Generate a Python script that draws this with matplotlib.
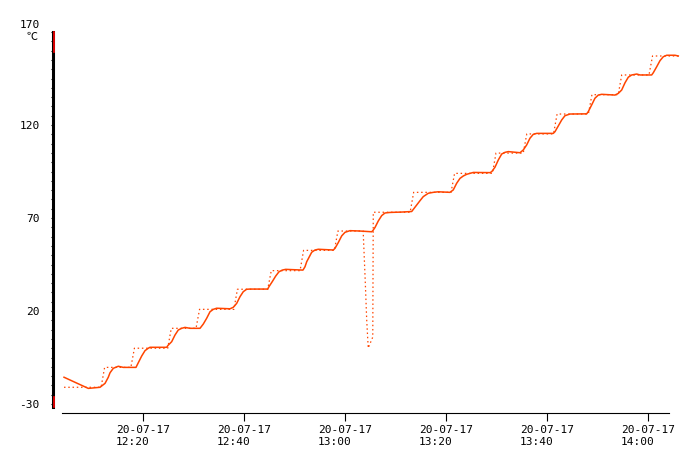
## temperature log: measured value (solid) vs set point (dotted)

import numpy as np
import pandas as pd
import matplotlib as mpl
mpl.use('Agg')
import matplotlib.pyplot as plt
import matplotlib.dates as mdates
from matplotlib.transforms import ScaledTranslation

plt.rcParams['font.family'] = ['DejaVu Sans Mono', 'Noto Sans CJK JP']
plt.rcParams['font.size'] = 8

base = pd.Timestamp('2020-07-17 12:00')

# set point, minutes after 12:00 / degC
sp_min = [4.36, 11.7, 12.4, 17.6, 18.3, 24.9, 25.6, 30.5, 31.2, 38.0, 38.7,
          44.7, 45.4, 51.1, 51.8, 57.9, 58.6, 63.6, 64.0, 64.3, 64.6, 65.5, 65.6,
          72.9, 73.6, 81.0, 81.7, 89.2, 89.9, 95.3, 96.0, 101.3, 102.0,
          108.2, 108.9, 114.1, 114.8, 120.2, 120.9, 126.0]
sp_val = [-21.0, -21.0, -10.3, -10.3, 0.0, 0.0, 10.7, 10.7, 20.9, 20.9, 31.7,
          31.7, 41.7, 41.7, 52.6, 52.6, 63.0, 63.0, 36.7, 15.2, 0.1, 6.0, 73.1,
          73.1, 83.8, 83.8, 94.0, 94.0, 104.9, 104.9, 115.2, 115.2, 125.9,
          125.9, 136.3, 136.3, 146.9, 146.9, 157.1, 157.1]

# measured temperature
pv_min = [4.36, 9.17, 11.49, 12.48, 13.13, 13.47, 14.12, 15.11, 16.10, 18.61,
          19.07, 19.74, 20.40, 21.05, 21.39, 24.69, 24.95, 25.68, 26.34, 26.99,
          27.66, 28.32, 29.31, 31.29, 31.94, 32.61, 33.27, 33.92, 34.59, 37.23,
          37.88, 38.55, 39.21, 39.86, 40.53, 41.19, 44.69, 44.95, 45.60, 46.28,
          46.93, 47.58, 48.26, 51.68, 52.08, 52.42, 53.41, 54.06, 54.71, 57.68,
          58.02, 58.67, 59.35, 60.00, 60.99, 62.97, 65.29, 65.54, 65.94, 66.59,
          67.27, 67.92, 68.91, 71.23, 73.21, 73.52, 74.20, 74.85, 75.50, 76.49,
          77.48, 78.47, 80.79, 81.44, 82.12, 82.77, 83.43, 84.10, 85.41, 88.71,
          89.05, 89.70, 90.36, 91.03, 91.68, 92.34, 94.65, 95.31, 95.98, 96.63,
          97.29, 97.96, 101.25, 101.58, 102.24, 102.91, 103.56, 104.55, 107.86,
          108.18, 108.85, 109.50, 110.16, 110.83, 113.46, 114.12, 114.79, 115.45,
          116.10, 116.78, 117.77, 118.42, 120.73, 121.05, 121.72, 122.38, 123.03,
          123.71, 125.35, 126.00]
pv_val = [-15.6, -21.6, -21.0, -18.9, -15.6, -13.2, -10.8, -9.7, -10.3, -10.3,
          -7.8, -4.2, -1.3, 0.0, 0.5, 0.5, 1.5, 3.5, 7.1, 9.8,
          10.7, 11.2, 10.7, 10.7, 13.0, 16.1, 19.6, 20.9, 21.5, 21.2,
          22.0, 24.1, 27.7, 30.4, 31.7, 31.8, 31.8, 33.1, 35.8, 38.8,
          41.1, 42.0, 42.4, 42.0, 43.8, 46.5, 51.6, 52.8, 53.2, 52.8,
          53.7, 56.8, 60.4, 62.3, 63.2, 63.0, 62.6, 63.3, 64.9, 68.4,
          71.3, 72.7, 73.0, 73.2, 73.5, 74.6, 77.0, 79.3, 81.5, 83.3,
          83.8, 84.1, 83.8, 85.1, 88.7, 91.3, 92.6, 93.5, 94.5, 94.4,
          94.9, 97.3, 101.2, 104.4, 105.3, 105.7, 105.1, 106.6, 109.3, 112.9,
          115.0, 115.5, 115.5, 116.4, 119.5, 122.7, 125.0, 125.9, 126.0,
          127.2, 130.8, 134.4, 136.1, 136.5, 136.1, 137.0, 138.8, 142.7,
          145.7, 146.9, 147.4, 146.9, 146.9, 148.1, 151.3, 154.6, 156.7,
          157.5, 157.5, 157.1]

# alarm bands marked in red on the axis
alarm_hi = 159.5
alarm_lo = -26.4

ytick_vals = [-30, 20, 70, 120, 170]
xtick_times = pd.date_range('2020-07-17 12:20', periods=6, freq='20min')

sp_t = base + pd.to_timedelta(sp_min, unit='min')
pv_t = base + pd.to_timedelta(pv_min, unit='min')

fig = plt.figure(figsize=(7, 4.67), dpi=100)
W, H = 700, 467
ax = fig.add_axes([52.5 / W, (H - 407) / H, (690 - 52.5) / W, (407 - 32) / H])

col = '#ff4500'
ax.plot(sp_t, sp_val, color=col, lw=0.9, linestyle=(0, (1.2, 2.2)))
ax.plot(pv_t, pv_val, color=col, lw=1.1)

ax.set_xlim(base + pd.Timedelta(minutes=2.08), base + pd.Timedelta(minutes=128.32))
ax.set_ylim(-31.6, 170)

for s in ['top', 'right']:
    ax.spines[s].set_visible(False)
ax.spines['left'].set_linewidth(2.2)
ax.spines['bottom'].set_linewidth(0.8)
ax.spines['bottom'].set_position(('outward', 4.3))
ax.spines['bottom'].set_bounds(mdates.date2num(base + pd.Timedelta(minutes=3.96)),
                               mdates.date2num(base + pd.Timedelta(minutes=124.16)))

# red alarm marks on the y axis
off = ScaledTranslation(1.0 / 72, 0, fig.dpi_scale_trans)
tr = ax.get_yaxis_transform() + off
ax.plot([0, 0], [alarm_hi, 170], color='red', lw=1.2, transform=tr, clip_on=False, zorder=4)
ax.plot([0, 0], [-31.6, alarm_lo], color='red', lw=1.2, transform=tr, clip_on=False, zorder=4)

ax.set_yticks(ytick_vals)
ax.set_yticklabels([str(v) for v in ytick_vals])
ax.yaxis.set_minor_locator(mpl.ticker.MultipleLocator(5))
ax.tick_params(axis='y', which='both', direction='out', length=1.6, width=0.8, pad=7.6)
lab = ax.get_yticklabels()[-1]
lab.set_transform(lab.get_transform() + ScaledTranslation(0, 6 / 72, fig.dpi_scale_trans))
ax.text(38 / W, (H - 36.5) / H, '℃', transform=fig.transFigure, ha='right', va='center', fontsize=8)

ax.set_xticks(xtick_times)
ax.xaxis.set_major_formatter(mdates.DateFormatter('%y-%m-%d\n%H:%M'))
ax.tick_params(axis='x', direction='out', length=5.8, width=0.8, pad=3.2)
plt.setp(ax.get_xticklabels(), multialignment='left')

fig.savefig('out.png', dpi=100)
